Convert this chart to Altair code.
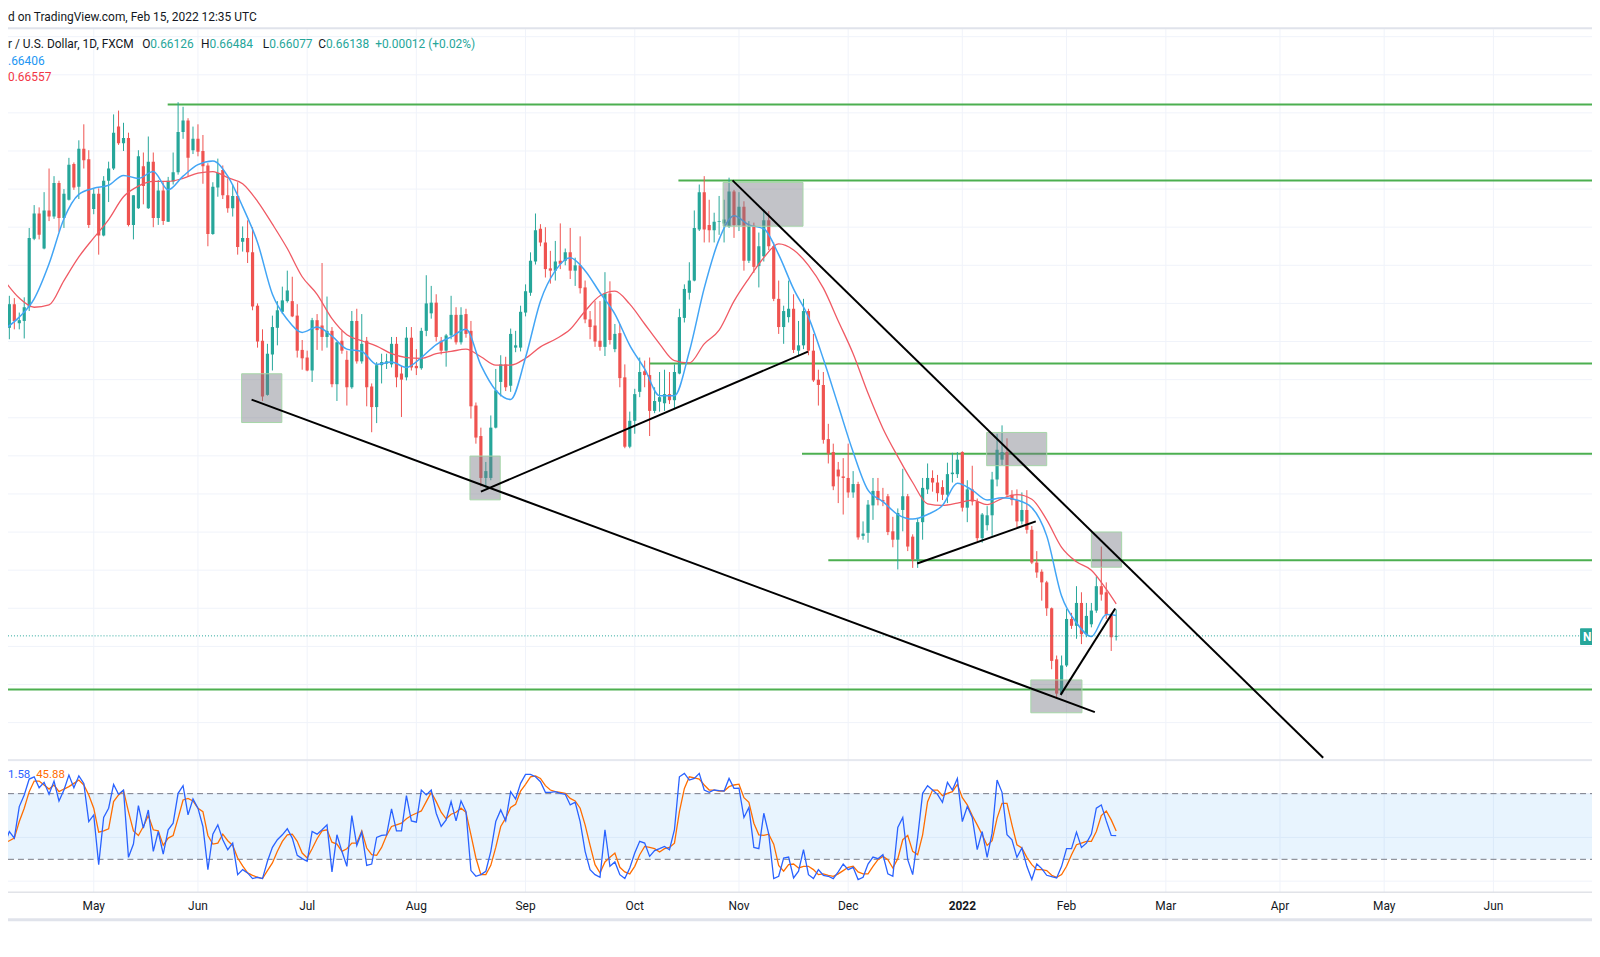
import altair as alt
import pandas as pd

# ---------------- data (prices in pips = 0.0001) ----------------
FIRST_DAY = "2021-04-07"

open_pips = [
    7056, 7018, 7049, 7024, 7027, 7045, 7135, 7168, 7122, 7172,
    7164, 7208, 7162, 7186, 7233, 7203, 7253, 7239, 7174, 7194,
    7139, 7211, 7227, 7282, 7260, 7267, 7153, 7175, 7230, 7175,
    7236, 7162, 7198, 7157, 7210, 7222, 7275, 7290, 7251, 7266,
    7250, 7231, 7141, 7202, 7225, 7192, 7175, 7191, 7131, 7136,
    7117, 7047, 7001, 6930, 6983, 7018, 7039, 7053, 7053, 7034,
    6989, 6979, 6962, 7028, 7021, 7006, 7014, 6944, 7001, 6976,
    6940, 7027, 6974, 7001, 6941, 6914, 6969, 6971, 6970, 6997,
    6958, 6953, 7005, 6968, 6965, 7014, 7037, 7051, 7001, 6988,
    7008, 7035, 6999, 7036, 7014, 6916, 6876, 6821, 6821, 6887,
    6947, 6970, 6942, 6992, 6992, 7038, 7064, 7105, 7148, 7130,
    7096, 7093, 7106, 7106, 7117, 7093, 7100, 7071, 7029, 7021,
    7001, 6993, 7063, 6990, 7011, 6953, 6862, 6896, 6934, 6961,
    6956, 6909, 6921, 6919, 6931, 6923, 6958, 7031, 7064, 7080,
    7147, 7196, 7153, 7146, 7157, 7155, 7151, 7197, 7153, 7177,
    7106, 7152, 7099, 7112, 7159, 7125, 7056, 7019, 7032, 7043,
    6988, 6995, 7040, 6988, 6950, 6943, 6872, 6855, 6832, 6823,
    6821, 6802, 6813, 6745, 6749, 6785, 6804, 6792, 6797, 6751,
    6740, 6779, 6797, 6744, 6714, 6763, 6806, 6821, 6815, 6809,
    6799, 6826, 6826, 6855, 6782, 6806, 6790, 6742, 6759, 6772,
    6819, 6845, 6855, 6799, 6792, 6764, 6779, 6753, 6710, 6698,
    6684, 6650, 6583, 6538, 6575, 6636, 6627, 6657, 6616, 6629,
    6647, 6679, 6671, 6642, 6612.6,
]
high_pips = [
    7060, 7060, 7057, 7038, 7058, 7149, 7179, 7176, 7196, 7227,
    7217, 7211, 7200, 7241, 7235, 7264, 7285, 7251, 7200, 7201,
    7217, 7236, 7298, 7303, 7287, 7274, 7192, 7251, 7248, 7269,
    7248, 7212, 7209, 7216, 7248, 7314, 7308, 7293, 7282, 7285,
    7271, 7234, 7209, 7240, 7231, 7214, 7206, 7209, 7151, 7159,
    7150, 7050, 7016, 6997, 7034, 7053, 7072, 7093, 7085, 7049,
    7002, 6988, 7031, 7036, 7103, 7059, 7019, 7000, 7014, 6988,
    7040, 7043, 7036, 7006, 6945, 6973, 6984, 6984, 7006, 7006,
    6968, 7019, 7019, 6990, 7018, 7087, 7073, 7062, 7006, 7010,
    7060, 7045, 7045, 7043, 7027, 6920, 6887, 6842, 6903, 6964,
    6982, 6980, 7017, 7014, 7047, 7075, 7117, 7168, 7154, 7150,
    7119, 7132, 7155, 7122, 7149, 7110, 7138, 7080, 7040, 7053,
    7053, 7091, 7079, 7023, 7023, 6970, 6908, 6938, 6979, 6975,
    6979, 6940, 6960, 6963, 6960, 6970, 7043, 7075, 7104, 7172,
    7206, 7217, 7186, 7169, 7191, 7186, 7215, 7199, 7196, 7184,
    7158, 7156, 7143, 7173, 7171, 7130, 7080, 7047, 7080, 7062,
    7027, 7056, 7043, 7010, 6963, 6960, 6892, 6866, 6842, 6847,
    6866, 6830, 6816, 6764, 6792, 6821, 6821, 6808, 6800, 6770,
    6781, 6833, 6800, 6747, 6768, 6821, 6840, 6831, 6825, 6818,
    6841, 6854, 6855, 6856, 6818, 6837, 6794, 6775, 6784, 6829,
    6879, 6890, 6873, 6805, 6806, 6802, 6805, 6758, 6725, 6701,
    6686, 6651, 6588, 6588, 6649, 6644, 6679, 6671, 6657, 6657,
    6692, 6731, 6684, 6644, 6648.4,
]
low_pips = [
    7001, 7003, 7016, 7016, 7004, 7040, 7133, 7134, 7121, 7158,
    7161, 7144, 7149, 7185, 7199, 7187, 7227, 7149, 7167, 7114,
    7138, 7183, 7225, 7258, 7250, 7151, 7134, 7174, 7180, 7174,
    7150, 7153, 7153, 7157, 7206, 7219, 7266, 7217, 7246, 7243,
    7207, 7125, 7140, 7190, 7187, 7169, 7164, 7114, 7118, 7103,
    7041, 6992, 6922, 6929, 6962, 6995, 7036, 7051, 7032, 6979,
    6963, 6961, 6947, 6989, 6988, 6992, 6940, 6922, 6984, 6916,
    6938, 6971, 6971, 6915, 6881, 6893, 6945, 6964, 6966, 6940,
    6901, 6949, 6962, 6956, 6963, 7007, 7030, 7000, 6983, 6967,
    7003, 6996, 6996, 7005, 6899, 6866, 6810, 6808, 6818, 6886,
    6928, 6935, 6934, 6986, 6987, 7033, 7060, 7101, 7125, 7084,
    7076, 7080, 7095, 7100, 7082, 7073, 7063, 7024, 7003, 6993,
    6988, 6981, 6996, 6986, 6940, 6860, 6860, 6879, 6927, 6940,
    6876, 6906, 6908, 6909, 6918, 6912, 6957, 7025, 7055, 7079,
    7145, 7130, 7130, 7130, 7140, 7130, 7149, 7136, 7145, 7093,
    7103, 7090, 7071, 7105, 7120, 7053, 7010, 6997, 7025, 6985,
    6982, 6990, 6982, 6947, 6916, 6866, 6840, 6805, 6788, 6773,
    6795, 6795, 6740, 6740, 6736, 6766, 6785, 6784, 6746, 6730,
    6701, 6751, 6725, 6703, 6703, 6740, 6800, 6803, 6790, 6792,
    6788, 6815, 6821, 6777, 6763, 6785, 6738, 6736, 6752, 6745,
    6810, 6838, 6796, 6785, 6756, 6760, 6748, 6708, 6690, 6660,
    6640, 6570, 6533, 6536, 6573, 6623, 6610, 6603, 6612, 6625,
    6644, 6660, 6636, 6594, 6607.7,
]
close_pips = [
    7017, 7049, 7027, 7028, 7045, 7136, 7168, 7140, 7172, 7164,
    7208, 7162, 7194, 7232, 7202, 7253, 7238, 7153, 7194, 7139,
    7211, 7227, 7274, 7260, 7267, 7153, 7192, 7243, 7204, 7236,
    7162, 7198, 7158, 7211, 7222, 7275, 7290, 7241, 7266, 7249,
    7230, 7141, 7203, 7221, 7192, 7175, 7191, 7124, 7136, 7117,
    7046, 7000, 6928, 6984, 7019, 7041, 7054, 7067, 7033, 6988,
    6978, 6962, 7028, 7015, 7006, 7014, 6944, 6999, 6988, 6940,
    7027, 6974, 6997, 6940, 6914, 6969, 6973, 6974, 6997, 6953,
    6950, 7005, 6966, 6965, 7014, 7050, 7051, 7006, 6988, 7008,
    7035, 6999, 7035, 7010, 6915, 6874, 6821, 6830, 6887, 6936,
    6970, 6940, 7010, 6995, 7039, 7066, 7106, 7146, 7130, 7095,
    7093, 7105, 7102, 7117, 7093, 7100, 7070, 7029, 7019, 7000,
    6993, 7063, 7002, 7010, 6952, 6862, 6896, 6931, 6960, 6956,
    6909, 6922, 6927, 6931, 6923, 6960, 7032, 7069, 7080, 7149,
    7196, 7147, 7146, 7157, 7158, 7160, 7197, 7153, 7177, 7106,
    7152, 7098, 7125, 7159, 7125, 7056, 7019, 7040, 7043, 6989,
    6995, 7040, 6988, 6949, 6943, 6871, 6853, 6810, 6823, 6821,
    6802, 6813, 6743, 6748, 6786, 6804, 6792, 6790, 6750, 6740,
    6775, 6797, 6731, 6714, 6763, 6808, 6821, 6815, 6801, 6799,
    6826, 6828, 6845, 6782, 6806, 6790, 6742, 6773, 6772, 6819,
    6858, 6855, 6799, 6792, 6764, 6779, 6753, 6710, 6697, 6684,
    6650, 6581, 6538, 6575, 6636, 6627, 6657, 6616, 6640, 6647,
    6679, 6668, 6642, 6612, 6613.8,
]

# moving averages read every 3rd bar (plus the last bar)
ema_fast_pips = [
    7016, 7032, 7056, 7102, 7161, 7193, 7201, 7205, 7218, 7214,
    7223, 7199, 7217, 7232, 7237, 7217, 7177, 7130, 7062, 7029,
    7012, 7019, 7007, 6990, 6987, 6970, 6973, 6966, 6979, 6996,
    7006, 7016, 6969, 6936, 6924, 6979, 7053, 7093, 7110, 7093,
    7064, 7036, 6995, 6964, 6929, 6929, 6987, 7070, 7134, 7165,
    7153, 7148, 7114, 7069, 7032, 6977, 6916, 6855, 6805, 6790,
    6773, 6767, 6773, 6785, 6814, 6805, 6792, 6795, 6792, 6782,
    6745, 6666, 6631, 6613, 6642, 6640.6,
]
ema_slow_pips = [
    7080, 7057, 7045, 7048, 7080, 7111, 7136, 7160, 7190, 7204,
    7210, 7210, 7214, 7221, 7223, 7215, 7207, 7184, 7154, 7122,
    7085, 7062, 7030, 7009, 7001, 6994, 6984, 6979, 6978, 6984,
    6987, 6990, 6980, 6969, 6969, 6978, 6993, 7003, 7016, 7040,
    7060, 7066, 7049, 7023, 6997, 6975, 6972, 6997, 7015, 7053,
    7083, 7110, 7128, 7120, 7100, 7070, 7027, 6984, 6932, 6886,
    6849, 6815, 6787, 6785, 6788, 6792, 6786, 6794, 6799, 6793,
    6766, 6730, 6711, 6700, 6675, 6655.7,
]

stoch_k = [
    33.3, 45.4, 39.4, 68.2, 78.8, 93.3, 95.4, 85.4, 90.3, 79.4,
    91.5, 73.3, 83.3, 97.0, 85.4, 96.3, 89.4, 54.5, 60.6, 15.1,
    58.2, 66.7, 88.5, 79.4, 83.3, 21.8, 33.9, 69.1, 48.5, 65.1,
    27.3, 45.4, 24.8, 47.0, 53.0, 80.3, 87.3, 60.6, 75.1, 66.7,
    50.0, 10.6, 43.0, 51.5, 37.9, 28.8, 34.8, 6.0, 10.6, 7.6,
    2.4, 3.6, 2.4, 18.2, 30.9, 37.9, 42.4, 47.9, 39.4, 23.6,
    20.6, 18.2, 45.4, 43.0, 47.0, 51.5, 8.5, 42.4, 27.3, 13.6,
    60.0, 32.7, 44.8, 14.5, 15.7, 40.0, 41.8, 42.4, 66.0, 46.0,
    46.0, 78.2, 55.1, 53.9, 83.3, 78.8, 83.3, 62.1, 50.0, 56.0,
    72.7, 55.1, 73.3, 63.6, 9.7, 4.5, 6.0, 9.1, 27.3, 54.5,
    65.1, 55.1, 81.8, 75.1, 89.4, 97.6, 97.6, 95.4, 90.9, 81.2,
    81.2, 81.8, 80.3, 79.4, 69.7, 72.1, 54.5, 27.3, 10.6, 6.0,
    3.6, 47.0, 13.6, 17.6, 6.0, 2.4, 12.1, 25.7, 36.4, 34.8,
    22.7, 27.9, 29.7, 31.8, 28.8, 47.0, 95.4, 98.5, 92.4, 93.9,
    98.5, 83.3, 81.2, 83.3, 82.7, 82.4, 93.9, 84.8, 85.0, 58.2,
    67.3, 30.9, 29.7, 62.1, 43.0, 2.4, 4.5, 21.2, 22.1, 3.0,
    9.1, 28.8, 6.0, 2.4, 10.6, 5.4, 4.5, 2.4, 8.5, 15.7,
    10.6, 12.7, 1.5, 3.6, 15.7, 22.1, 20.6, 24.2, 6.7, 4.5,
    49.1, 58.2, 19.7, 6.0, 40.0, 80.3, 87.3, 83.3, 79.4, 72.1,
    90.3, 83.3, 93.9, 54.5, 68.2, 58.2, 28.8, 45.4, 21.8, 43.9,
    92.4, 81.2, 42.4, 37.9, 21.8, 30.3, 13.6, 1.5, 15.7, 11.5,
    5.4, 4.2, 3.0, 13.6, 29.7, 29.7, 44.8, 30.9, 34.8, 43.0,
    66.7, 69.7, 55.1, 41.8, 41.58,
]
stoch_d = [
    34.8, 37.0, 39.4, 54.5, 66.7, 81.8, 91.5, 91.5, 87.9, 84.2,
    87.9, 81.8, 84.2, 86.4, 89.4, 92.4, 87.9, 78.8, 66.7, 44.8,
    46.0, 47.9, 72.7, 78.8, 82.7, 63.6, 46.0, 41.8, 50.0, 60.0,
    47.0, 46.0, 32.7, 39.4, 41.8, 57.6, 74.2, 75.7, 73.3, 66.7,
    63.6, 41.8, 33.9, 34.8, 43.0, 37.0, 32.7, 21.2, 14.0, 7.6,
    5.4, 3.6, 2.4, 9.7, 16.7, 27.3, 36.4, 42.4, 43.0, 36.4,
    25.7, 21.2, 29.7, 38.8, 46.0, 47.0, 35.7, 33.9, 27.3, 29.7,
    34.8, 34.8, 46.0, 30.3, 24.2, 23.6, 30.9, 41.8, 50.0, 51.5,
    53.0, 57.0, 60.0, 62.1, 64.2, 72.7, 81.2, 72.7, 63.0, 57.0,
    61.2, 63.0, 66.7, 63.0, 42.4, 21.2, 6.0, 6.0, 14.5, 30.9,
    50.0, 57.6, 67.3, 70.3, 82.4, 88.5, 95.4, 96.3, 93.9, 87.3,
    83.3, 81.8, 81.2, 80.3, 75.7, 73.3, 66.7, 51.5, 32.7, 15.1,
    7.6, 17.6, 21.8, 25.7, 12.7, 8.5, 6.7, 13.6, 24.2, 31.8,
    30.9, 29.7, 26.7, 29.7, 30.9, 34.8, 63.6, 84.8, 95.4, 94.5,
    93.3, 87.9, 83.3, 83.3, 82.4, 82.4, 86.4, 87.9, 88.6, 76.3,
    72.1, 53.0, 42.4, 41.8, 43.0, 33.9, 14.5, 9.1, 15.1, 15.7,
    12.1, 13.6, 13.6, 10.6, 6.0, 6.7, 5.4, 4.5, 6.7, 9.7,
    12.7, 13.6, 8.5, 6.7, 6.7, 13.6, 19.7, 22.7, 19.7, 12.1,
    20.6, 37.9, 41.8, 27.3, 24.2, 42.4, 72.7, 83.3, 83.3, 78.2,
    80.3, 81.8, 88.5, 76.3, 69.7, 60.0, 51.5, 42.4, 32.7, 37.0,
    57.6, 71.2, 71.2, 51.5, 33.3, 30.3, 21.8, 15.1, 10.6, 10.6,
    9.7, 5.4, 3.6, 6.0, 13.6, 24.2, 33.3, 34.8, 36.4, 36.4,
    45.4, 60.0, 64.2, 56.0, 45.88,
]

month_ticks = ["2021-05-03", "2021-06-01", "2021-07-01", "2021-08-02", "2021-09-01",
               "2021-10-01", "2021-11-01", "2021-12-01", "2022-01-03", "2022-02-01",
               "2022-03-01", "2022-04-01", "2022-05-02", "2022-06-01"]
month_labels = ["May", "Jun", "Jul", "Aug", "Sep", "Oct", "Nov", "Dec", "2022",
                "Feb", "Mar", "Apr", "May", "Jun"]

price_grid = [0.645, 0.650, 0.655, 0.660, 0.665, 0.670, 0.675, 0.680, 0.685, 0.690,
              0.695, 0.700, 0.705, 0.710, 0.715, 0.720, 0.725, 0.730, 0.735, 0.740]
stoch_grid = [0, 40, 80]
stoch_bands = [20, 80]
last_close = 0.66138

# drawings: (bar index, price)
hline_start = [32.9, 135.8, 130.0, 160.7, 166.0, 0.0]
hline_price = [0.7311, 0.72114, 0.69712, 0.68527, 0.6713, 0.65433]
box_i1 = [47.8, 93.8, 144.8, 197.9, 219.0, 206.8]
box_i2 = [55.9, 99.9, 160.9, 210.0, 225.1, 217.1]
box_p1 = [0.68937, 0.67923, 0.71513, 0.68371, 0.67039, 0.65129]
box_p2 = [0.69577, 0.68497, 0.72087, 0.68807, 0.67501, 0.65560]
trend_i1 = [49.8, 96.0, 146.7, 183.9, 212.8]
trend_p1 = [0.69238, 0.68031, 0.72114, 0.67087, 0.65364]
trend_i2 = [219.7, 161.9, 265.7, 207.8, 223.8]
trend_p2 = [0.65138, 0.69868, 0.64539, 0.67640, 0.66496]

# ---------------- frames ----------------
n = len(close_pips)
dates = pd.bdate_range(FIRST_DAY, periods=n)
candles = pd.DataFrame({
    "i": range(n), "date": dates.strftime("%Y-%m-%d"),
    "O": [v / 10000 for v in open_pips], "H": [v / 10000 for v in high_pips],
    "L": [v / 10000 for v in low_pips], "C": [v / 10000 for v in close_pips],
})
candles["dir"] = ["up" if c >= o else "down" for o, c in zip(candles.O, candles.C)]

ema_i = list(range(0, n - 2, 3)) + [n - 1]
ema = pd.DataFrame({"i": ema_i,
                    "fast": [v / 10000 for v in ema_fast_pips],
                    "slow": [v / 10000 for v in ema_slow_pips]})
stoch = pd.DataFrame({"i": range(n), "k": stoch_k, "d": stoch_d})

tick_idx = [len(pd.bdate_range(FIRST_DAY, d)) - 1 for d in month_ticks]
ticks = pd.DataFrame({"i": tick_idx, "label": month_labels})
ticks_bold = ticks[ticks.label.str.isdigit()]
ticks_norm = ticks[~ticks.label.str.isdigit()]

X_DOMAIN = [1.73, 318.86]
hlines = pd.DataFrame({"s": hline_start, "e": [X_DOMAIN[1] + 5] * len(hline_start), "p": hline_price})
boxes = pd.DataFrame({"i1": box_i1, "i2": box_i2, "p1": box_p1, "p2": box_p2})
trends = pd.DataFrame({"i1": trend_i1, "i2": trend_i2, "p1": trend_p1, "p2": trend_p2})

# ---------------- scales / helpers ----------------
W, H = 1592, 916
FONT = "Roboto"
TEAL, RED = "#26a69a", "#ef5350"
XS = alt.Scale(domain=X_DOMAIN, zero=False, nice=False)
YP = alt.Scale(domain=[0.645157, 0.740979], range=[753, 19], zero=False, nice=False)
YS = alt.Scale(domain=[0, 100], range=[875.3, 765.3], zero=False, nice=False)
one = pd.DataFrame({"k": [0]})


def xq(f):
    return alt.X(f"{f}:Q", scale=XS, axis=None)


def yp(f):
    return alt.Y(f"{f}:Q", scale=YP, axis=None)


def ys(f):
    return alt.Y(f"{f}:Q", scale=YS, axis=None)


def hrule(y, color, width=1):
    return alt.Chart(one).mark_rule(color=color, strokeWidth=width).encode(
        x=alt.value(0), x2=alt.value(W), y=alt.value(y))


def label(s, x, y, color, size=12, align="left", weight="normal"):
    return alt.Chart(one).mark_text(text=s, align=align, baseline="middle", font=FONT,
                                    fontSize=size, color=color, fontWeight=weight).encode(
        x=alt.value(x), y=alt.value(y))


cdir = alt.Color("dir:N", scale=alt.Scale(domain=["up", "down"], range=[TEAL, RED]), legend=None)

layers = []
# grids
layers.append(alt.Chart(ticks).mark_rule(color="#f0f3fa", strokeWidth=1).encode(
    x=xq("i"), y=alt.value(19), y2=alt.value(886)))
layers.append(alt.Chart(pd.DataFrame({"p": price_grid})).mark_rule(color="#f0f3fa", strokeWidth=1).encode(
    y=yp("p"), x=alt.value(0), x2=alt.value(W)))
layers.append(alt.Chart(pd.DataFrame({"v": stoch_grid})).mark_rule(color="#f0f3fa", strokeWidth=1).encode(
    y=ys("v"), x=alt.value(0), x2=alt.value(W)))
# stoch band
layers.append(alt.Chart(pd.DataFrame({"lo": [stoch_bands[0]], "hi": [stoch_bands[1]]})).mark_rect(
    color="#2196f3", opacity=0.1).encode(y=ys("lo"), y2=alt.Y2("hi:Q"), x=alt.value(0), x2=alt.value(W)))
layers.append(alt.Chart(pd.DataFrame({"v": stoch_bands})).mark_rule(
    color="#787b86", strokeWidth=1, strokeDash=[6, 4]).encode(y=ys("v"), x=alt.value(0), x2=alt.value(W)))
# separators
layers.append(hrule(18, "#e0e3eb", 2))
layers.append(hrule(753.5, "#e0e3eb", 1.5))
layers.append(hrule(886.3, "#d1d4dc", 1))
layers.append(hrule(914, "#e0e3eb", 3))
# green levels
layers.append(alt.Chart(hlines).mark_rule(color="#4caf50", strokeWidth=2, clip=True).encode(
    x=xq("s"), x2=alt.X2("e:Q"), y=yp("p")))
# candles
layers.append(alt.Chart(candles).mark_rule(strokeWidth=1, clip=True).encode(
    x=xq("i"), y=yp("L"), y2=alt.Y2("H:Q"), color=cdir))
layers.append(alt.Chart(candles).mark_bar(size=3.2, clip=True).encode(
    x=xq("i"), y=yp("O"), y2=alt.Y2("C:Q"), color=cdir))
# moving averages
layers.append(alt.Chart(ema).mark_line(color="#f05a64", strokeWidth=1.3, interpolate="monotone", clip=True).encode(
    x=xq("i"), y=yp("slow")))
layers.append(alt.Chart(ema).mark_line(color="#42a5f5", strokeWidth=1.5, interpolate="monotone", clip=True).encode(
    x=xq("i"), y=yp("fast")))
# last price line
layers.append(alt.Chart(pd.DataFrame({"p": [last_close]})).mark_rule(
    color=TEAL, strokeWidth=1, strokeDash=[1, 2]).encode(y=yp("p"), x=alt.value(0), x2=alt.value(1580)))
# boxes and trend lines
layers.append(alt.Chart(boxes).mark_rect(fill="#787b86", fillOpacity=0.45, stroke="#a5d6a7", strokeWidth=1).encode(
    x=xq("i1"), x2=alt.X2("i2:Q"), y=yp("p1"), y2=alt.Y2("p2:Q")))
layers.append(alt.Chart(trends).mark_rule(color="#000000", strokeWidth=2, clip=True).encode(
    x=xq("i1"), x2=alt.X2("i2:Q"), y=yp("p1"), y2=alt.Y2("p2:Q")))
# stoch rsi lines
layers.append(alt.Chart(stoch).mark_line(color="#ff6d00", strokeWidth=1.3, clip=True).encode(
    x=xq("i"), y=ys("d")))
layers.append(alt.Chart(stoch).mark_line(color="#2962ff", strokeWidth=1.3, clip=True).encode(
    x=xq("i"), y=ys("k")))
# time axis labels
for frame, weight in ((ticks_norm, "normal"), (ticks_bold, "bold")):
    layers.append(alt.Chart(frame).mark_text(baseline="middle", align="center", font=FONT, fontSize=12,
                                             color="#131722", fontWeight=weight).encode(
        x=xq("i"), y=alt.value(900.5), text="label:N"))
# header / legend texts
DARK = "#131722"
layers += [
    label("d on TradingView.com, Feb 15, 2022 12:35 UTC", 0, 6.5, DARK, size=12),
    label("r / U.S. Dollar, 1D, FXCM", 0, 33.7, DARK),
    label("O", 135, 33.7, DARK), label("0.66126", 143, 33.7, TEAL),
    label("H", 194, 33.7, DARK), label("0.66484", 202.5, 33.7, TEAL),
    label("L", 256, 33.7, DARK), label("0.66077", 262.5, 33.7, TEAL),
    label("C", 311.7, 33.7, DARK), label("0.66138", 319.5, 33.7, TEAL),
    label("+0.00012 (+0.02%)", 369, 33.7, TEAL),
    label(".66406", 0, 50.7, "#2196f3", size=12),
    label("0.66557", 0, 67, "#f23645", size=12),
    label("1.58", 0, 768.7, "#2962ff", size=11.5),
    label("45.88", 28.3, 768.7, "#ff6d00", size=11.5),
]
# price tag at right edge
layers.append(alt.Chart(one).mark_rect(color=TEAL, cornerRadius=1).encode(
    x=alt.value(1580), x2=alt.value(1594), y=alt.value(621), y2=alt.value(638)))
layers.append(label("N", 1583, 629.5, "#ffffff", size=12, weight="bold"))

chart = alt.layer(*layers).resolve_scale(y="independent").properties(
    width=W, height=H, padding=0, autosize="none", background="#ffffff"
).configure_view(stroke=None)

chart.save("out.html", embed_options={"renderer": "svg", "actions": False})
